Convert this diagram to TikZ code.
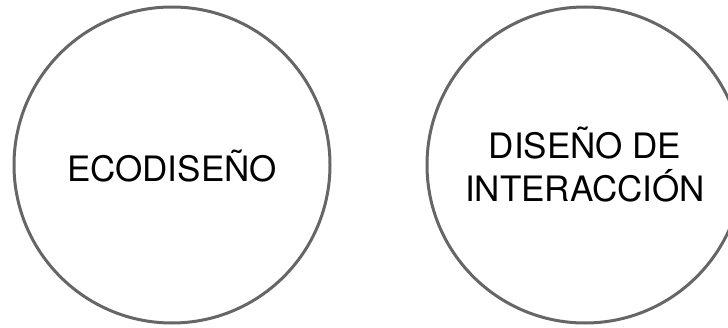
\documentclass[tikz,border=0pt]{standalone}
\usepackage{fontspec}
\setmainfont{TeX Gyre Heros}
\begin{document}
\begin{tikzpicture}[x=1pt,y=1pt,
  topic/.style={draw=black!60, line width=3pt},
  lbl/.style={font=\fontsize{35}{44}\selectfont, text=black, inner sep=0pt, align=center}]
\useasboundingbox (0,0) rectangle (728,327);
\clip (0,0) rectangle (728,327);
\draw[topic] (172,162) circle (158);
\draw[topic] (585,162) circle (158);
\node[lbl, anchor=base] (eco) at (172,146) {ECODISEÑO};
\node[lbl, anchor=base] (inter) at (585,125) {DISEÑO DE\\INTERACCIÓN};
\end{tikzpicture}
\end{document}
